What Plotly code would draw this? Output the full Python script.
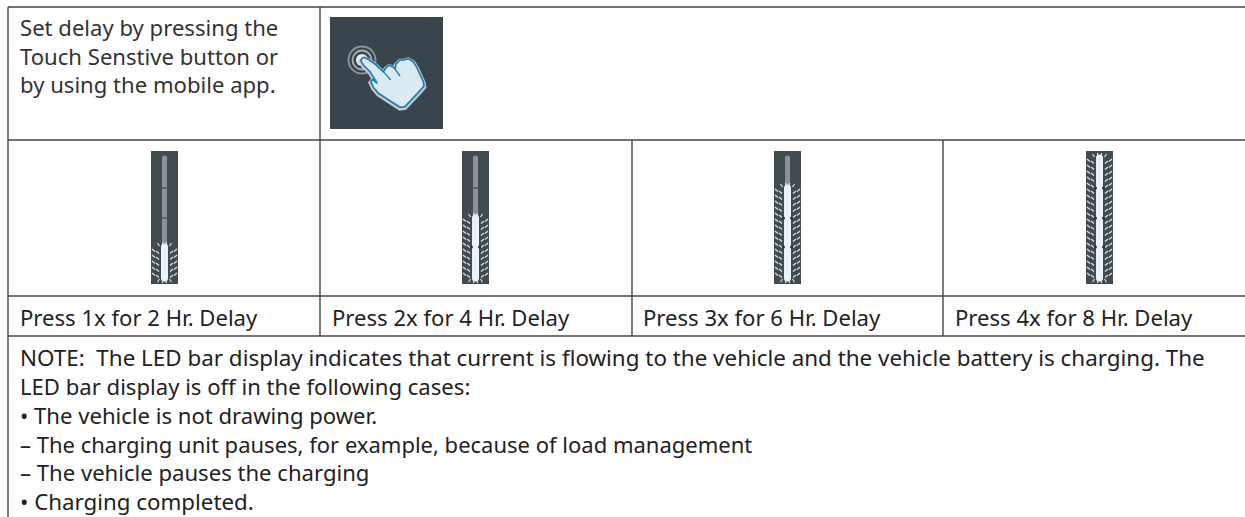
import plotly.graph_objects as go

# ---- text content ----
intro_lines = ["Set delay by pressing the", "Touch Senstive button or", "by using the mobile app."]
press_labels = ["Press 1x for 2 Hr. Delay", "Press 2x for 4 Hr. Delay",
                "Press 3x for 6 Hr. Delay", "Press 4x for 8 Hr. Delay"]
note_lines = [
    "NOTE:  The LED bar display indicates that current is flowing to the vehicle and the vehicle battery is charging. The",
    "LED bar display is off in the following cases:",
    "• The vehicle is not drawing power.",
    "– The charging unit pauses, for example, because of load management",
    "– The vehicle pauses the charging",
    "• Charging completed.",
]
lit_segments = [1, 2, 3, 4]

# ---- table geometry (pixel-like axis units) ----
W, H = 1245, 517
col_edges = [320, 632, 943]
left_edge = 8
row_top, row_a, row_b, row_c = 7, 140, 296, 336
intro_y = [27, 56, 84]
press_y = 317
press_x = [18, 330, 641, 953]
note_y = [357, 386, 415, 444, 472, 501]
note_sizes = [22.4, 22.1, 22.1, 22.0, 22.1, 22.3]
bar_left = [151, 462, 774, 1086]
bar_w, bar_top, bar_bottom = 27, 151, 284
tube_top, tube_bottom = 158, 278
tube_breaks = [188, 218, 247]

# ---- hand icon outline (in 1/3 px icon units) ----
hand_u = [130, 145, 165, 190, 198, 208, 218, 225, 228, 240, 252, 265, 280, 292, 310, 312, 300, 255, 240, 222, 205, 175, 160, 152, 158, 172, 150, 130, 122, 130]
hand_v = [172, 178, 192, 215, 203, 196, 200, 207, 192, 180, 180, 176, 185, 205, 245, 258, 272, 320, 322, 310, 298, 280, 262, 245, 238, 250, 215, 195, 182, 172]

LINE = "#444444"
PANEL = "#414c50"
ICON = "#39444c"
fig = go.Figure()


def seg(xs, ys, color, width, **kw):
    fig.add_trace(go.Scatter(x=xs, y=ys, mode="lines", line=dict(color=color, width=width),
                             hoverinfo="skip", showlegend=False, **kw))


def rect(x0, x1, y0, y1, color):
    fig.add_trace(go.Scatter(x=[x0, x1, x1, x0, x0], y=[y0, y0, y1, y1, y0], mode="lines",
                             fill="toself", fillcolor=color, line=dict(width=0, color=color),
                             hoverinfo="skip", showlegend=False))


# table rules
seg([left_edge, W], [row_top, row_top], LINE, 1.6)
seg([left_edge, W], [row_a, row_a], LINE, 1.4)
seg([left_edge, W], [row_b, row_b], LINE, 1.4)
seg([left_edge, W], [row_c, row_c], LINE, 1.6)
seg([left_edge, left_edge], [row_top, H], LINE, 1.4)
seg([col_edges[0], col_edges[0]], [row_top, row_c], LINE, 1.4)
for cx in col_edges[1:]:
    seg([cx, cx], [row_a, row_c], LINE, 1.4)

# touch icon
rect(330, 443, 17, 129, ICON)
cx_ring, cy_ring = 362, 60
for size, col in [(27, "#8d9599"), (19, "#aab1b4")]:
    fig.add_trace(go.Scatter(x=[cx_ring], y=[cy_ring], mode="markers",
                             marker=dict(symbol="circle-open", size=size, color=col,
                                         line=dict(color=col, width=1.8)),
                             hoverinfo="skip", showlegend=False))
fig.add_trace(go.Scatter(x=[cx_ring], y=[cy_ring], mode="markers",
                         marker=dict(size=12, color="#e6eef2"), hoverinfo="skip", showlegend=False))
hx = [320 + u / 3 for u in hand_u]
hy = [v / 3 for v in hand_v]
seg(hx, [y + 1 for y in hy], "#c4cacd", 4.5)
fig.add_trace(go.Scatter(x=hx, y=hy, mode="lines", fill="toself", fillcolor="#dbe9f2",
                         line=dict(color="#1f7fae", width=1.7), hoverinfo="skip", showlegend=False))
for a, b in [((190, 215), (212, 240)), ((225, 207), (240, 228))]:
    seg([320 + a[0] / 3, 320 + b[0] / 3], [a[1] / 3, b[1] / 3], "#1f7fae", 1.3)

# LED bars
for left, n in zip(bar_left, lit_segments):
    rect(left, left + bar_w, bar_top, bar_bottom, PANEL)
    c = left + bar_w / 2
    stops = [tube_top] + tube_breaks + [tube_bottom]
    lit_top = stops[4 - n]
    # unlit part
    if n < 4:
        seg([c, c], [tube_top, lit_top], "#8b9396", 5)
        fig.add_trace(go.Scatter(x=[c], y=[tube_top], mode="markers", marker=dict(size=5, color="#8b9396"),
                                 hoverinfo="skip", showlegend=False))
    for b in tube_breaks:
        if b < lit_top:
            seg([c - 2.5, c + 2.5], [b, b], "#2f383b", 1)
    # rays around the lit part
    rx, ry = [], []
    y = tube_bottom - 2
    while y > lit_top + 3:
        for side in (-1, 1):
            rx += [c + side * 5.5, c + side * 8.5, None, c + side * 9.5, c + side * 12.5, None]
            ry += [y + 1.5, y - 1, None, y - 0.5, y - 3, None]
        y -= 6
    for side in (-1, 1):
        rx += [c + side * 1.5, c + side * 2, None, c + side * 5, c + side * 7, None]
        ry += [tube_bottom + 2, tube_bottom + 5, None, tube_bottom + 1, tube_bottom + 4, None]
        rx += [c + side * 1.5, c + side * 2, None, c + side * 5, c + side * 7, None]
        ry += [lit_top - 2, lit_top - 5, None, lit_top - 1, lit_top - 4, None]
    seg(rx, ry, "#dde4e6", 1.2)
    # lit part
    seg([c, c], [lit_top, tube_bottom], "#eaf4f8", 7)
    fig.add_trace(go.Scatter(x=[c, c], y=[lit_top, tube_bottom], mode="markers",
                             marker=dict(size=7, color="#eaf4f8"), hoverinfo="skip", showlegend=False))
    for b in tube_breaks:
        if b > lit_top:
            fig.add_trace(go.Scatter(x=[c - 4, c + 4], y=[b, b], mode="markers",
                                     marker=dict(size=3, color="#2a3336"),
                                     hoverinfo="skip", showlegend=False))

# text
FONT = "Noto Sans"
def label(x, y, s, col="#222222", size=22.1):
    fig.add_annotation(x=x, y=y, text=s, showarrow=False, xanchor="left", yanchor="middle",
                       align="left", xref="x", yref="y",
                       font=dict(family=FONT, size=size, color=col))

for y, s in zip(intro_y, intro_lines):
    label(18, y, s, "#333333")
for x, s in zip(press_x, press_labels):
    label(x, press_y, s)
for y, s, fs in zip(note_y, note_lines, note_sizes):
    label(18, y, s, size=fs)

fig.update_layout(width=W, height=H, margin=dict(l=0, r=0, t=0, b=0),
                  paper_bgcolor="white", plot_bgcolor="white", showlegend=False, hovermode=False,
                  xaxis=dict(range=[0, W], visible=False, fixedrange=True),
                  yaxis=dict(range=[H, 0], visible=False, fixedrange=True))
fig.write_html("out.html", config=dict(displayModeBar=False),
               post_script="document.body.style.margin='0';")
